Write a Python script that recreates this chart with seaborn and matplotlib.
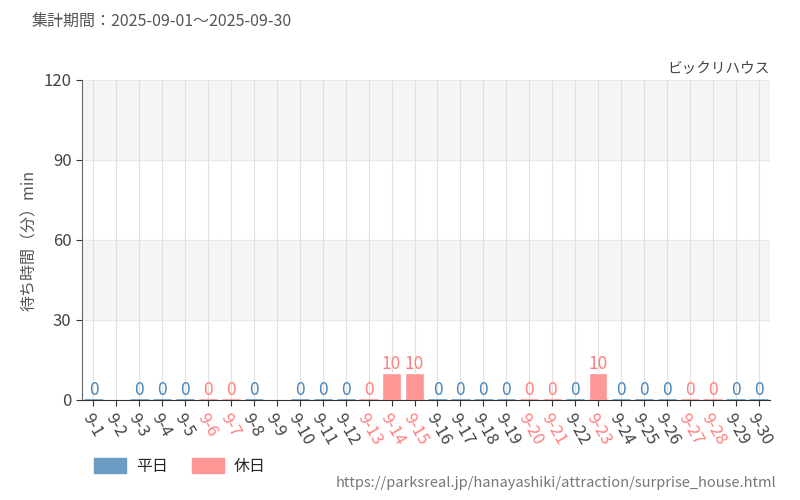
import numpy as np
import pandas as pd
import matplotlib
matplotlib.use("Agg")
import matplotlib.pyplot as plt
import seaborn as sns
from matplotlib.patches import Patch

days = [f"9-{d}" for d in range(1, 31)]
wait = [0, np.nan, 0, 0, 0, 0, 0, 0, np.nan, 0, 0, 0, 0, 10, 10, 0, 0, 0, 0, 0, 0, 0, 10, 0, 0, 0, 0, 0, 0, 0]
holidays = ["9-6", "9-7", "9-13", "9-14", "9-15", "9-20", "9-21", "9-23", "9-27", "9-28"]

BLUE = "#6a9cc4"
PINK = "#ff9696"
BLUE_TXT = "#4a86b8"
PINK_TXT = "#ff7f7f"

sns.set_style("white")
plt.rcParams['font.family'] = ['Noto Sans CJK JP', 'DejaVu Sans']

df = pd.DataFrame({"day": days, "wait": wait})
df["kind"] = ["休日" if d in holidays else "平日" for d in days]

fig = plt.figure(figsize=(8, 5), dpi=100)
ax = fig.add_axes([0.1025, 0.2, 0.86, 0.64])

for lo in (30, 90):
    ax.axhspan(lo, lo + 30, color="#f5f5f5", zorder=0)
for y in (30, 60, 90, 120):
    ax.axhline(y, color="#e8e8e8", lw=0.8, zorder=0.5)
for i in range(len(days)):
    ax.axvline(i, color="#e0e0e0", lw=0.8, zorder=0.5)

sns.barplot(data=df, x="day", y="wait", hue="kind", palette={"平日": BLUE, "休日": PINK},
            dodge=False, width=0.8, saturation=1, legend=False, ax=ax, zorder=2)

for i, (d, v) in enumerate(zip(days, wait)):
    if np.isnan(v):
        continue
    c = PINK if d in holidays else BLUE
    ax.plot([i - 0.4, i + 0.4], [0, 0], color=c, lw=2, zorder=3, solid_capstyle="butt")
    ax.text(i, v + 0.3, f"{int(v)}", ha="center", va="bottom", fontsize=12.5,
            color=PINK_TXT if d in holidays else BLUE_TXT, zorder=4)

ax.set_ylim(0, 120)
ax.set_xlim(-0.5, len(days) - 0.5)
ax.set_yticks([0, 30, 60, 90, 120])
ax.set_yticklabels(["0", "30", "60", "90", "120"], fontsize=12, color="#444444")
ax.set_xlabel("")
ax.set_ylabel("待ち時間（分）min", fontsize=11.5, color="#555555")
ax.set_xticks(range(len(days)))
ax.set_xticklabels(days, rotation=-60, ha="left", rotation_mode="anchor", fontsize=12)
for lbl in ax.get_xticklabels():
    lbl.set_color(PINK_TXT if lbl.get_text() in holidays else "#444444")
ax.tick_params(axis="x", length=4, color="#333333", direction="out", bottom=True)
ax.tick_params(axis="y", length=4, color="#333333", left=True)
for s in ("top", "right"):
    ax.spines[s].set_visible(False)
ax.spines["left"].set_color("#666666")
ax.spines["bottom"].set_color("#333333")

fig.text(0.04, 0.955, "集計期間：2025-09-01～2025-09-30", fontsize=11.5, color="#555555", va="center")
fig.text(0.9625, 0.862, "ビックリハウス", fontsize=10.5, color="#444444", ha="right", va="center")
fig.text(0.97, 0.035, "https://parksreal.jp/hanayashiki/attraction/surprise_house.html",
         fontsize=10.5, color="#777777", ha="right", va="center")

handles = [Patch(color=BLUE, label="平日"), Patch(color=PINK, label="休日")]
fig.legend(handles=handles, loc="center left", bbox_to_anchor=(0.1, 0.067), ncol=2,
           frameon=False, fontsize=11.5, handlelength=2.0, handleheight=1.0,
           handletextpad=0.6, columnspacing=1.5)

fig.savefig("out.png", dpi=100)
